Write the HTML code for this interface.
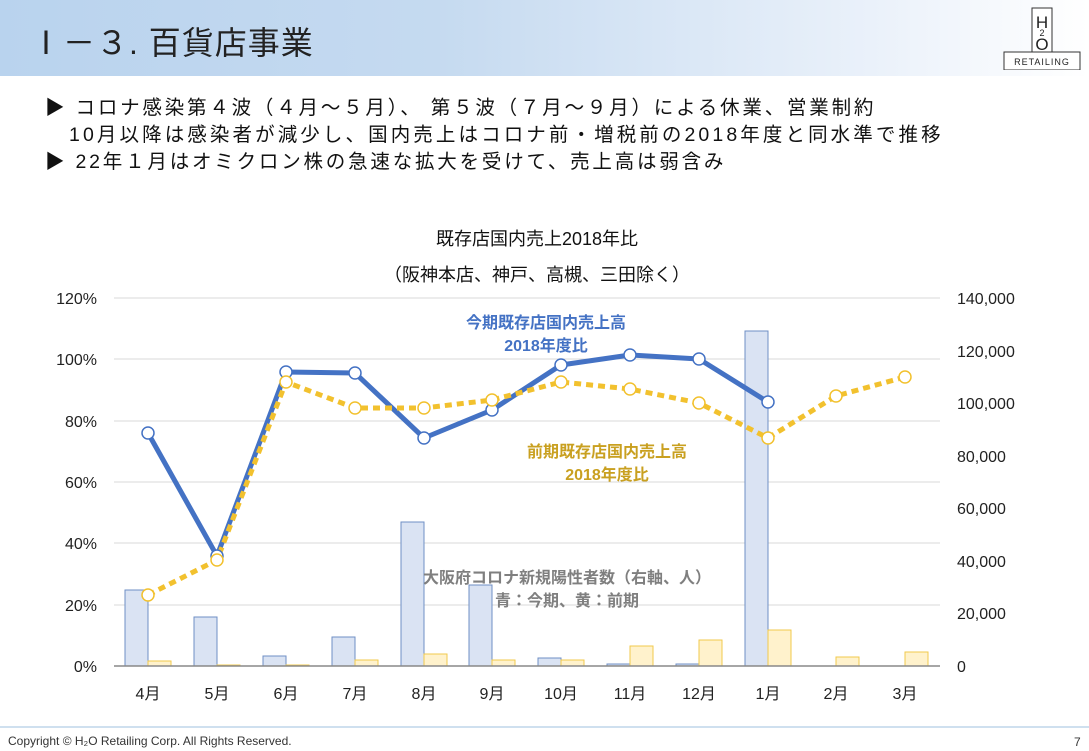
<!DOCTYPE html>
<html><head><meta charset="utf-8"><style>
body{margin:0;width:1089px;height:751px;overflow:hidden;background:#fff;font-family:"Liberation Sans","Noto Sans CJK JP",sans-serif;position:relative}
.hdr{position:absolute;left:0;top:0;width:1089px;height:76px;background:linear-gradient(90deg,#b9d3ee 0%,#c5daf0 40%,#eaf1fa 80%,#fff 100%)}
.title{position:absolute;left:30px;top:18px;font-size:32px;color:#222;letter-spacing:1px}
.logo{position:absolute;left:1002px;top:6px;width:80px;height:64px}
.b{position:absolute;left:45px;font-size:19.5px;color:#111;white-space:nowrap;letter-spacing:2.8px}
.foot{position:absolute;left:0;top:726px;width:1089px;border-top:2px solid #cfe0ef}
.copy{position:absolute;left:8px;top:734px;font-size:12px;color:#333}
</style></head><body>
<div class="hdr"></div>
<div class="title">Ⅰ－３. 百貨店事業</div>
<svg class="logo" viewBox="0 0 80 64"><rect x="30" y="2" width="20" height="44" fill="#fff" stroke="#333"/><rect x="2" y="46" width="76" height="18" fill="#fff" stroke="#333"/><text x="40" y="22" font-size="17" text-anchor="middle" fill="#222">H</text><text x="40" y="30" font-size="9" text-anchor="middle" fill="#222">2</text><text x="40" y="44" font-size="17" text-anchor="middle" fill="#222">O</text><text x="40" y="59" font-size="9" text-anchor="middle" letter-spacing="1" fill="#222">RETAILING</text></svg>
<div class="b" style="top:91px">▶ コロナ感染第４波（４月～５月）、 第５波（７月～９月）による休業、営業制約</div>
<div class="b" style="top:118px;left:69px;letter-spacing:3.1px">10月以降は感染者が減少し、国内売上はコロナ前・増税前の2018年度と同水準で推移</div>
<div class="b" style="top:145px">▶ 22年１月はオミクロン株の急速な拡大を受けて、売上高は弱含み</div>
<svg style="position:absolute;left:0;top:0" width="1089" height="751">
<g font-size="18" fill="#111" text-anchor="middle"><text x="537" y="245">既存店国内売上2018年比</text><text x="537" y="281">（阪神本店、神戸、高槻、三田除く）</text></g>
<g stroke="#d9d9d9" stroke-width="1">
<line x1="114" x2="940" y1="298" y2="298"/><line x1="114" x2="940" y1="359" y2="359"/><line x1="114" x2="940" y1="421" y2="421"/><line x1="114" x2="940" y1="482" y2="482"/><line x1="114" x2="940" y1="543" y2="543"/><line x1="114" x2="940" y1="605" y2="605"/></g>
<g font-size="16" fill="#222" text-anchor="end"><text x="97" y="304">120%</text><text x="97" y="365">100%</text><text x="97" y="427">80%</text><text x="97" y="488">60%</text><text x="97" y="549">40%</text><text x="97" y="611">20%</text><text x="97" y="672">0%</text></g>
<g font-size="16" fill="#222"><text x="957" y="304">140,000</text><text x="957" y="357">120,000</text><text x="957" y="409">100,000</text><text x="957" y="462">80,000</text><text x="957" y="514">60,000</text><text x="957" y="567">40,000</text><text x="957" y="619">20,000</text><text x="957" y="672">0</text></g>
<g fill="#dae3f3" stroke="#6f8fc4" stroke-width="1">
<rect x="125" y="590" width="23" height="76"/><rect x="194" y="617" width="23" height="49"/><rect x="263" y="656" width="23" height="10"/><rect x="332" y="637" width="23" height="29"/><rect x="401" y="522" width="23" height="144"/><rect x="469" y="585" width="23" height="81"/><rect x="538" y="658" width="23" height="8"/><rect x="607" y="664" width="23" height="2"/><rect x="676" y="664" width="23" height="2"/><rect x="745" y="331" width="23" height="335"/></g>
<g fill="#fff2cc" stroke="#f2c94c" stroke-width="1">
<rect x="148" y="661" width="23" height="5"/><rect x="217" y="665" width="23" height="1"/><rect x="286" y="665" width="23" height="1"/><rect x="355" y="660" width="23" height="6"/><rect x="424" y="654" width="23" height="12"/><rect x="492" y="660" width="23" height="6"/><rect x="561" y="660" width="23" height="6"/><rect x="630" y="646" width="23" height="20"/><rect x="699" y="640" width="23" height="26"/><rect x="768" y="630" width="23" height="36"/><rect x="836" y="657" width="23" height="9"/><rect x="905" y="652" width="23" height="14"/></g>
<line x1="114" x2="940" y1="666" y2="666" stroke="#888" stroke-width="1.5"/>
<g font-size="16" fill="#222" text-anchor="middle"><text x="148" y="699">4月</text><text x="217" y="699">5月</text><text x="286" y="699">6月</text><text x="355" y="699">7月</text><text x="424" y="699">8月</text><text x="492" y="699">9月</text><text x="561" y="699">10月</text><text x="630" y="699">11月</text><text x="699" y="699">12月</text><text x="768" y="699">1月</text><text x="836" y="699">2月</text><text x="905" y="699">3月</text></g>
<polyline points="148,433 217,556 286,372 355,373 424,438 492,410 561,365 630,355 699,359 768,402" fill="none" stroke="#4472c4" stroke-width="5" stroke-linejoin="round"/>
<polyline points="148,595 217,560 286,382 355,408 424,408 492,400 561,382 630,389 699,403 768,438 836,396 905,377" fill="none" stroke="#f2c12e" stroke-width="5" stroke-dasharray="7,5"/>
<g fill="#fff" stroke="#4472c4" stroke-width="1.5"><circle cx="148" cy="433" r="6"/><circle cx="217" cy="556" r="6"/><circle cx="286" cy="372" r="6"/><circle cx="355" cy="373" r="6"/><circle cx="424" cy="438" r="6"/><circle cx="492" cy="410" r="6"/><circle cx="561" cy="365" r="6"/><circle cx="630" cy="355" r="6"/><circle cx="699" cy="359" r="6"/><circle cx="768" cy="402" r="6"/></g>
<g fill="#fff" stroke="#f2c12e" stroke-width="1.5"><circle cx="148" cy="595" r="6"/><circle cx="217" cy="560" r="6"/><circle cx="286" cy="382" r="6"/><circle cx="355" cy="408" r="6"/><circle cx="424" cy="408" r="6"/><circle cx="492" cy="400" r="6"/><circle cx="561" cy="382" r="6"/><circle cx="630" cy="389" r="6"/><circle cx="699" cy="403" r="6"/><circle cx="768" cy="438" r="6"/><circle cx="836" cy="396" r="6"/><circle cx="905" cy="377" r="6"/></g>
<g font-size="16" font-weight="bold" text-anchor="middle"><text x="546" y="328" fill="#4472c4">今期既存店国内売上高</text><text x="546" y="351" fill="#4472c4">2018年度比</text>
<text x="607" y="457" fill="#c9a020">前期既存店国内売上高</text><text x="607" y="480" fill="#c9a020">2018年度比</text>
<text x="567" y="583" fill="#7f7f7f">大阪府コロナ新規陽性者数（右軸、人）</text><text x="567" y="606" fill="#7f7f7f">青：今期、黄：前期</text></g>
<text x="1074" y="746" font-size="12" fill="#333">7</text>
</svg>
<div class="foot"></div>
<div class="copy">Copyright © H₂O Retailing Corp. All Rights Reserved.</div>
</body></html>
